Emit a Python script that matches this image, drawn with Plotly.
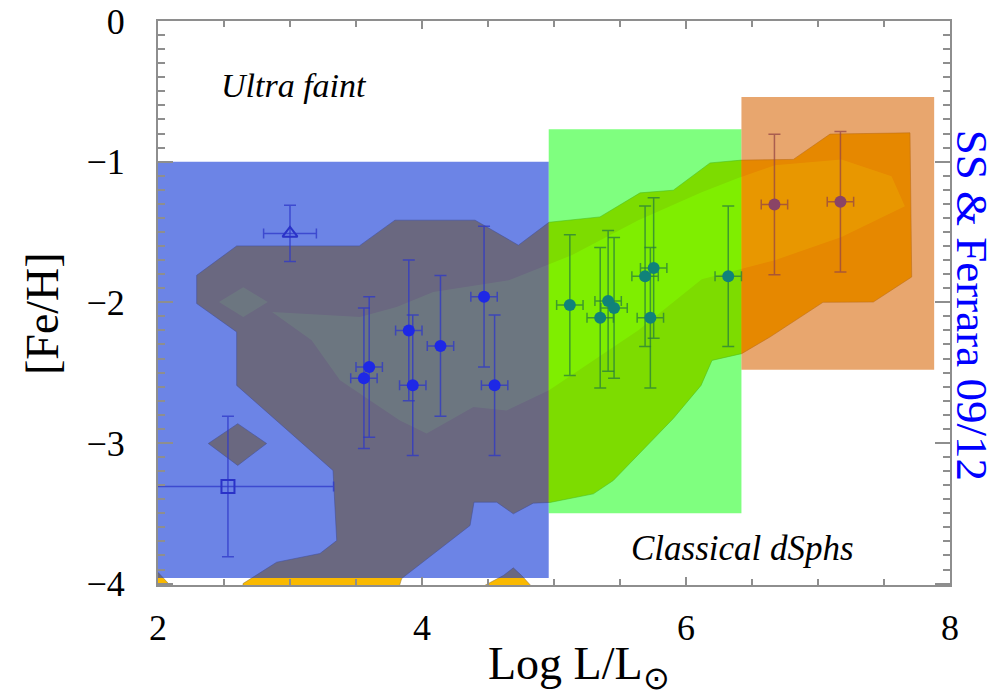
import plotly.graph_objects as go

# ---- observed dwarf galaxies: luminosity (log L/Lsun) and metallicity ----
uf_logL = [3.60, 3.56, 3.90, 3.93, 4.14, 4.47, 4.55]
uf_feh = [-2.46, -2.54, -2.20, -2.59, -2.31, -1.96, -2.59]
uf_feh_err = [0.5, 0.5, 0.5, 0.5, 0.5, 0.5, 0.5]
uf_logL_err = [0.1, 0.1, 0.1, 0.1, 0.1, 0.1, 0.1]

tri_logL = [3.00]
tri_feh = [-1.51]
tri_logL_err = [0.2]
tri_feh_err = [0.2]

sq_logL = [2.53]
sq_feh = [-3.31]
sq_logL_err = [0.8]
sq_feh_err = [0.5]

cl_logL = [5.12, 5.35, 5.41, 5.455, 5.69, 5.755, 5.73, 6.32]
cl_feh = [-2.02, -2.11, -1.99, -2.04, -1.815, -1.756, -2.11, -1.815]
cl_feh_err = [0.5, 0.5, 0.5, 0.5, 0.5, 0.5, 0.5, 0.5]
cl_logL_err = [0.1, 0.1, 0.1, 0.1, 0.1, 0.1, 0.1, 0.1]

br_logL = [6.67, 7.17]
br_feh = [-1.305, -1.285]
br_feh_err = [0.5, 0.5]
br_logL_err = [0.1, 0.1]

# ---- simulated population: outer and inner probability contours ----
outer_x = [2.596, 3.525, 3.795, 4.402, 4.730, 4.962, 5.348, 5.652, 5.904, 6.182,
           6.422, 6.813, 7.091, 7.697, 7.710, 7.419, 7.038, 6.636, 6.422, 6.197,
           6.114, 5.904, 5.449, 5.298, 4.970, 4.843, 4.692, 4.566, 4.394, 4.364,
           3.846, 3.818, 2.644, 2.644, 2.899, 3.227, 3.354, 3.326, 2.596, 2.596,
           2.293, 2.293]
outer_y = [-1.599, -1.599, -1.416, -1.416, -1.594, -1.431, -1.393, -1.222, -1.203, -1.009,
           -0.989, -0.984, -0.804, -0.795, -1.820, -1.998, -2.000, -2.247, -2.365, -2.413,
           -2.591, -2.826, -3.267, -3.362, -3.423, -3.428, -3.504, -3.421, -3.421, -3.587,
           -3.964, -4.050, -4.050, -4.000, -3.848, -3.786, -3.694, -3.196, -2.591, -2.211,
           -2.009, -1.808]

island_x = [2.381, 2.604, 2.823, 2.604]
island_y = [-3.004, -2.863, -3.004, -3.160]

corner_x = [1.99, 2.13, 1.99]
corner_y = [-3.91, -4.05, -4.05]

bump_x = [4.40, 4.616, 4.692, 4.755, 4.86]
bump_y = [-4.05, -3.943, -3.888, -3.943, -4.05]

inner_x = [2.864, 3.530, 3.808, 4.086, 4.659, 5.134, 5.639, 6.119, 6.396, 6.673,
           7.178, 7.557, 7.658, 7.178, 6.673, 6.119, 5.639, 4.962, 4.641, 4.389,
           4.035, 3.833, 3.379, 3.164]
inner_y = [-2.069, -2.104, -2.033, -1.926, -1.843, -1.665, -1.416, -1.217, -1.116, -1.026,
           -0.985, -1.103, -1.317, -1.535, -1.701, -1.836, -2.199, -2.626, -2.769, -2.745,
           -2.932, -2.840, -2.555, -2.270]

inner_island_x = [2.462, 2.646, 2.831, 2.646]
inner_island_y = [-1.998, -1.893, -1.998, -2.105]

# ---- luminosity classes drawn as translucent bands: (x0, x1, y0, y1) ----
uf_band = [2.0, 4.96, -3.96, -1.0]
cl_band = [4.96, 6.42, -3.50, -0.77]
br_band = [6.42, 7.88, -2.48, -0.54]

SERIF = "Liberation Serif"

fig = go.Figure()


def add_patch(xs, ys, fill, line="rgba(0,0,0,0)", width=0):
    fig.add_trace(go.Scatter(
        x=list(xs) + [xs[0]], y=list(ys) + [ys[0]], mode="lines",
        fill="toself", fillcolor=fill, line=dict(color=line, width=width),
        hoverinfo="skip", showlegend=False))


def add_band(b, fill):
    x0, x1, y0, y1 = b
    add_patch([x0, x1, x1, x0], [y0, y0, y1, y1], fill)


# density contours
LEVEL1 = "rgb(250,185,0)"
LEVEL2 = "rgb(255,221,0)"
EDGE = "rgba(150,120,60,0.55)"
add_patch(outer_x, outer_y, LEVEL1, EDGE, 1)
add_patch(island_x, island_y, LEVEL1, EDGE, 1)
add_patch(corner_x, corner_y, LEVEL1, EDGE, 1)
add_patch(bump_x, bump_y, LEVEL1, EDGE, 1)
add_patch(inner_x, inner_y, LEVEL2)
add_patch(inner_island_x, inner_island_y, LEVEL2)

# class bands
add_band(uf_band, "rgba(10,50,213,0.6)")
add_band(cl_band, "rgba(0,255,0,0.5)")
add_band(br_band, "rgba(215,99,0,0.57)")


def add_points(xs, ys, xe, ye, color, bar, symbol="circle", size=12, open_=False):
    marker = dict(size=size, symbol=symbol, color=color)
    if open_:
        marker["line"] = dict(color=color, width=2)
    fig.add_trace(go.Scatter(
        x=xs, y=ys, mode="markers", marker=marker,
        error_x=dict(type="data", array=xe, color=bar, thickness=1.5, width=5),
        error_y=dict(type="data", array=ye, color=bar, thickness=1.5, width=6),
        hoverinfo="skip", showlegend=False))


add_points(uf_logL, uf_feh, uf_logL_err, uf_feh_err, "#1e28e6", "rgba(45,55,200,0.75)")
add_points(tri_logL, tri_feh, tri_logL_err, tri_feh_err, "#2a32c8", "rgba(45,55,200,0.75)",
           symbol="triangle-up-open", size=13, open_=True)
add_points(sq_logL, sq_feh, sq_logL_err, sq_feh_err, "#2a32c8", "rgba(45,55,200,0.75)",
           symbol="square-open", size=13, open_=True)
add_points(cl_logL, cl_feh, cl_logL_err, cl_feh_err, "#10827a", "rgba(40,125,60,0.75)")
add_points(br_logL, br_feh, br_logL_err, br_feh_err, "#8a4466", "rgba(150,70,70,0.75)")

axis_common = dict(
    showline=True, linecolor="#8e8e8e", linewidth=2, mirror="allticks",
    ticks="inside", tickcolor="#8e8e8e", tickwidth=2,
    showgrid=False, zeroline=False, automargin=False, ticklabeloverflow="allow",
    tickfont=dict(family=SERIF, size=36, color="black"),
)

fig.update_layout(
    width=1007, height=699, autosize=False,
    margin=dict(l=158, r=57, t=21, b=114),
    paper_bgcolor="white", plot_bgcolor="white",
    xaxis=dict(range=[2, 8], tick0=2, dtick=2, ticklen=8, ticklabelstandoff=10,
               minor=dict(dtick=0.5, ticks="inside", ticklen=6, tickcolor="#8e8e8e",
                          tickwidth=1.5, showgrid=False),
               **axis_common),
    yaxis=dict(range=[-4.01, 0], tick0=0, dtick=1, ticklen=15, ticklabelstandoff=24,
               minor=dict(dtick=0.1, ticks="inside", ticklen=7, tickcolor="#8e8e8e",
                          tickwidth=1.5, showgrid=False),
               **axis_common),
    showlegend=False,
)

fig.add_annotation(text="[Fe/H]", xref="paper", yref="paper", x=-0.1452, y=0.4805,
                   xanchor="center", yanchor="middle", textangle=-90, showarrow=False,
                   font=dict(family=SERIF, size=46, color="black"))
fig.add_annotation(text="Log L/L<sub>⊙</sub>", xref="paper", yref="paper",
                   x=0.532, y=-0.145, xanchor="center", yanchor="middle", showarrow=False,
                   font=dict(family=SERIF, size=46, color="black"))
fig.add_annotation(text="<i>Ultra faint</i>", x=3.03, y=-0.455,
                   xanchor="center", yanchor="middle", showarrow=False,
                   font=dict(family=SERIF, size=34, color="black"))
fig.add_annotation(text="<i>Classical dSphs</i>", x=6.43, y=-3.75,
                   xanchor="center", yanchor="middle", showarrow=False,
                   font=dict(family=SERIF, size=35, color="black"))
fig.add_annotation(text="SS &amp; Ferrara 09/12", xref="paper", yref="paper",
                   x=1.0278, y=0.497, xanchor="center", yanchor="middle",
                   textangle=90, showarrow=False,
                   font=dict(family=SERIF, size=45, color="#0000ff"))

fig.write_html("out.html")
